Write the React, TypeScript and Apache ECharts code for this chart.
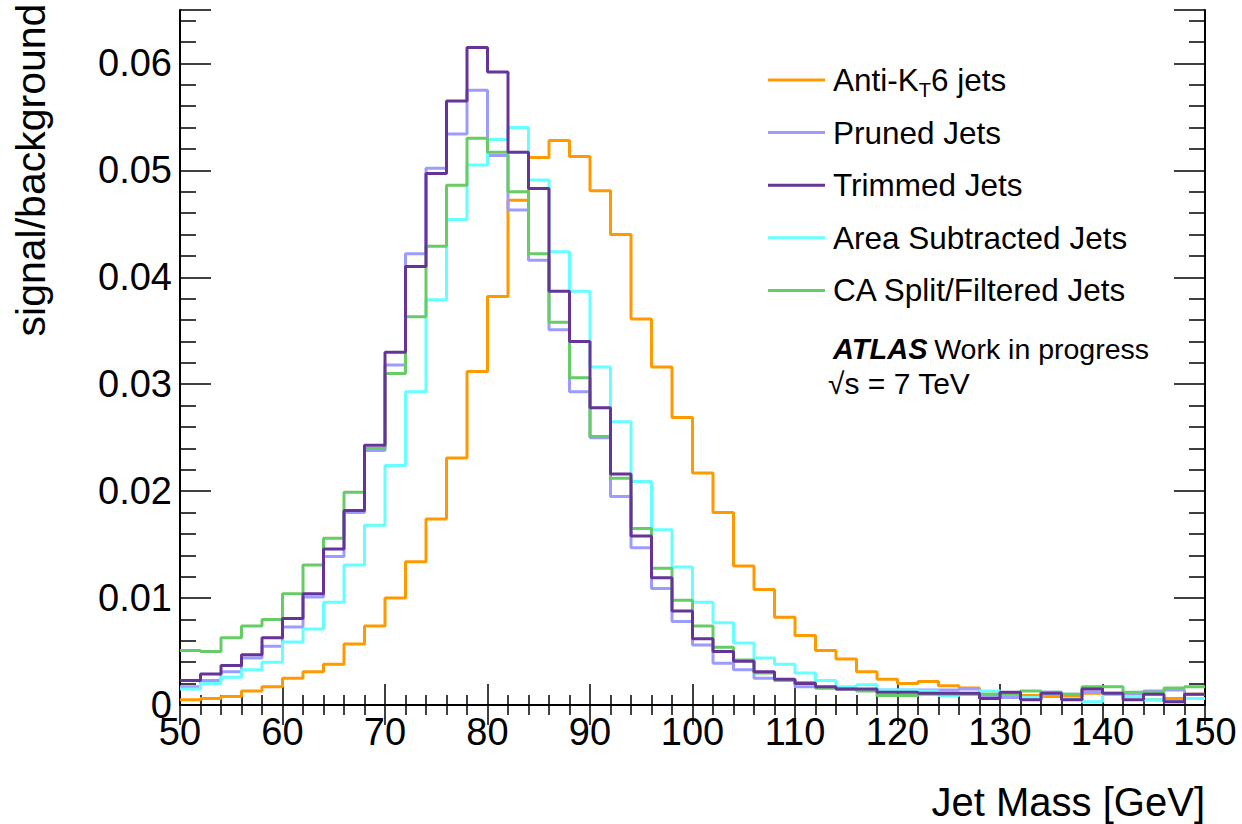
import React, { useEffect, useRef } from "react";
import * as echarts from "echarts";

// Jet mass bin edges [GeV]
const massEdges = [
  50, 52, 54, 56, 58, 60, 62, 64, 66, 68, 70, 72, 74, 76, 78, 80, 82, 84, 86, 88,
  90, 92, 94, 96, 98, 100, 102, 104, 106, 108, 110, 112, 114, 116, 118, 120, 122, 124, 126, 128,
  130, 132, 134, 136, 138, 140, 142, 144, 146, 148, 150,
];

const antiKt6 = [
  0.0005, 0.0006, 0.0008, 0.0013, 0.0017, 0.0025, 0.0031, 0.0038, 0.0057, 0.0074,
  0.0100, 0.0134, 0.0174, 0.0231, 0.0312, 0.0382, 0.0472, 0.0512, 0.0528, 0.0513,
  0.0481, 0.0440, 0.0361, 0.0316, 0.0269, 0.0217, 0.0180, 0.0130, 0.0108, 0.0082,
  0.0065, 0.0051, 0.0043, 0.0031, 0.0024, 0.0020, 0.0022, 0.0018, 0.0016, 0.0010,
  0.0010, 0.0009, 0.0008, 0.0008, 0.0011, 0.0010, 0.0009, 0.0005, 0.0006, 0.0010,
];

const pruned = [
  0.0017, 0.0023, 0.0031, 0.0044, 0.0055, 0.0073, 0.0101, 0.0139, 0.0180, 0.0238,
  0.0318, 0.0422, 0.0502, 0.0534, 0.0575, 0.0514, 0.0463, 0.0416, 0.0351, 0.0293,
  0.0250, 0.0195, 0.0147, 0.0109, 0.0078, 0.0056, 0.0039, 0.0033, 0.0025, 0.0023,
  0.0017, 0.0016, 0.0015, 0.0014, 0.0014, 0.0014, 0.0014, 0.0014, 0.0015, 0.0008,
  0.0007, 0.0006, 0.0012, 0.0010, 0.0012, 0.0011, 0.0010, 0.0013, 0.0014, 0.0006,
];

const trimmed = [
  0.0023, 0.0029, 0.0037, 0.0047, 0.0063, 0.0081, 0.0104, 0.0146, 0.0182, 0.0243,
  0.0330, 0.0410, 0.0497, 0.0565, 0.0615, 0.0592, 0.0517, 0.0483, 0.0387, 0.0340,
  0.0278, 0.0216, 0.0158, 0.0119, 0.0088, 0.0062, 0.0050, 0.0041, 0.0031, 0.0024,
  0.0020, 0.0017, 0.0015, 0.0015, 0.0012, 0.0012, 0.0011, 0.0011, 0.0011, 0.0006,
  0.0012, 0.0005, 0.0011, 0.0005, 0.0015, 0.0011, 0.0005, 0.0010, 0.0003, 0.0010,
];

const areaSubtracted = [
  0.0015, 0.0020, 0.0026, 0.0033, 0.0040, 0.0059, 0.0071, 0.0096, 0.0131, 0.0168,
  0.0224, 0.0293, 0.0379, 0.0454, 0.0505, 0.0529, 0.0540, 0.0491, 0.0424, 0.0387,
  0.0316, 0.0265, 0.0209, 0.0164, 0.0129, 0.0096, 0.0077, 0.0058, 0.0044, 0.0038,
  0.0030, 0.0023, 0.0017, 0.0019, 0.0014, 0.0014, 0.0013, 0.0009, 0.0010, 0.0013,
  0.0010, 0.0007, 0.0011, 0.0006, 0.0003, 0.0011, 0.0008, 0.0005, 0.0003, 0.0006,
];

const caSplitFiltered = [
  0.0051, 0.0050, 0.0063, 0.0074, 0.0080, 0.0104, 0.0131, 0.0156, 0.0199, 0.0240,
  0.0310, 0.0363, 0.0429, 0.0486, 0.0530, 0.0517, 0.0480, 0.0422, 0.0358, 0.0306,
  0.0251, 0.0212, 0.0165, 0.0128, 0.0098, 0.0074, 0.0054, 0.0042, 0.0030, 0.0023,
  0.0021, 0.0016, 0.0015, 0.0013, 0.0009, 0.0009, 0.0010, 0.0010, 0.0010, 0.0010,
  0.0010, 0.0013, 0.0012, 0.0010, 0.0017, 0.0017, 0.0012, 0.0012, 0.0016, 0.0017,
];

const seriesNames = [
  "Anti-KT6 jets",
  "Pruned Jets",
  "Trimmed Jets",
  "Area Subtracted Jets",
  "CA Split/Filtered Jets",
];
const seriesColors = ["#ff9900", "#9c9cff", "#663399", "#66ffff", "#66cc66"];
const seriesValues = [antiKt6, pruned, trimmed, areaSubtracted, caSplitFiltered];
// drawing order (last on top)
const drawOrder = [0, 1, 3, 4, 2];

const FONT = "'Liberation Sans', Arial, Helvetica, sans-serif";

function histPoints(values: number[]) {
  const pts: number[][] = values.map((v, i) => [massEdges[i], v]);
  pts.push([massEdges[values.length], values[values.length - 1]]);
  return pts;
}

export default function App() {
  const ref = useRef<HTMLDivElement>(null);

  useEffect(() => {
    if (!ref.current) return;
    const chart = echarts.init(ref.current, undefined, { renderer: "svg" });

    const axisLine = { show: true, lineStyle: { color: "#000", width: 2 } };

    const option: any = {
      animation: false,
      backgroundColor: "#fff",
      grid: { left: 180, right: 37, top: 10, bottom: 119, containLabel: false },
      xAxis: [
        {
          type: "value",
          position: "bottom",
          min: 50,
          max: 150,
          interval: 10,
          axisLine,
          axisTick: { show: true, inside: true, length: 21, lineStyle: { color: "#000", width: 1.5 } },
          minorTick: { show: true, splitNumber: 5, length: 10, lineStyle: { color: "#000", width: 1.5 } },
          splitLine: { show: false },
          axisLabel: { show: true, margin: 8, fontSize: 38, color: "#000", fontFamily: FONT },
        },
        {
          type: "value",
          position: "top",
          min: 50,
          max: 150,
          interval: 10,
          axisLine,
          axisTick: { show: true, inside: true, length: 20, lineStyle: { color: "#000", width: 1.5 } },
          minorTick: { show: true, splitNumber: 5, length: 10, lineStyle: { color: "#000", width: 1.5 } },
          splitLine: { show: false },
          axisLabel: { show: false },
        },
      ],
      yAxis: [
        {
          type: "value",
          position: "left",
          min: 0,
          max: 0.065,
          interval: 0.01,
          axisLine,
          axisTick: { show: true, inside: true, length: 31, lineStyle: { color: "#000", width: 1.5 } },
          minorTick: { show: true, splitNumber: 5, length: 16, lineStyle: { color: "#000", width: 1.5 } },
          splitLine: { show: false },
          axisLabel: {
            show: true,
            margin: 8,
            fontSize: 38,
            color: "#000",
            fontFamily: FONT,
            showMaxLabel: false,
          },
        },
        {
          type: "value",
          position: "right",
          min: 0,
          max: 0.065,
          interval: 0.01,
          axisLine,
          axisTick: { show: true, inside: true, length: 31, lineStyle: { color: "#000", width: 1.5 } },
          minorTick: { show: true, splitNumber: 5, length: 16, lineStyle: { color: "#000", width: 1.5 } },
          splitLine: { show: false },
          axisLabel: { show: false },
        },
      ],
      legend: {
        show: true,
        orient: "vertical",
        left: 763,
        top: 55,
        itemWidth: 57,
        itemHeight: 3,
        itemGap: 12.6,
        icon: "rect",
        selectedMode: false,
        data: seriesNames,
        formatter: (name: string) =>
          name === "Anti-KT6 jets" ? "{a|Anti-K}{sub|T}{a|6 jets}" : "{a|" + name + "}",
        textStyle: {
          fontFamily: FONT,
          fontSize: 31.5,
          color: "#000",
          lineHeight: 40,
          padding: [0, 0, 0, 3],
          rich: {
            a: { fontFamily: FONT, fontSize: 31.5, color: "#000", lineHeight: 40 },
            sub: { fontFamily: FONT, fontSize: 20, color: "#000", lineHeight: 16, verticalAlign: "bottom" },
          },
        },
      },
      graphic: [
        {
          type: "text",
          x: 1205,
          y: 802,
          style: {
            text: "Jet Mass [GeV]",
            fontFamily: FONT,
            fontSize: 40,
            fill: "#000",
            align: "right",
            verticalAlign: "middle",
          },
        },
        {
          type: "text",
          x: 31,
          y: 170,
          rotation: Math.PI / 2,
          style: {
            text: "signal/background",
            fontFamily: FONT,
            fontSize: 41,
            fill: "#000",
            align: "center",
            verticalAlign: "middle",
          },
        },
        {
          type: "text",
          x: 833,
          y: 349,
          style: {
            text: "{b|ATLAS}  {r|Work in progress}",
            fill: "#000",
            verticalAlign: "middle",
            rich: {
              b: { fontFamily: FONT, fontSize: 29, fontWeight: "bold", fontStyle: "italic", fill: "#000" },
              r: { fontFamily: FONT, fontSize: 28.5, fill: "#000" },
            },
          },
        },
        {
          type: "text",
          x: 828,
          y: 383,
          style: {
            text: "√s = 7 TeV",
            fontFamily: FONT,
            fontSize: 30,
            fill: "#000",
            verticalAlign: "middle",
          },
        },
      ],
      series: drawOrder.map((k) => ({
        name: seriesNames[k],
        type: "line",
        step: "end",
        xAxisIndex: 0,
        yAxisIndex: 0,
        showSymbol: false,
        symbol: "none",
        data: histPoints(seriesValues[k]),
        lineStyle: { color: seriesColors[k], width: 3 },
        itemStyle: { color: seriesColors[k] },
        z: 2,
      })),
    };

    chart.setOption(option);
    return () => chart.dispose();
  }, []);

  return (
    <div
      ref={ref}
      style={{ position: "fixed", left: 0, top: 0, width: 1242, height: 824, background: "#fff" }}
    />
  );
}
